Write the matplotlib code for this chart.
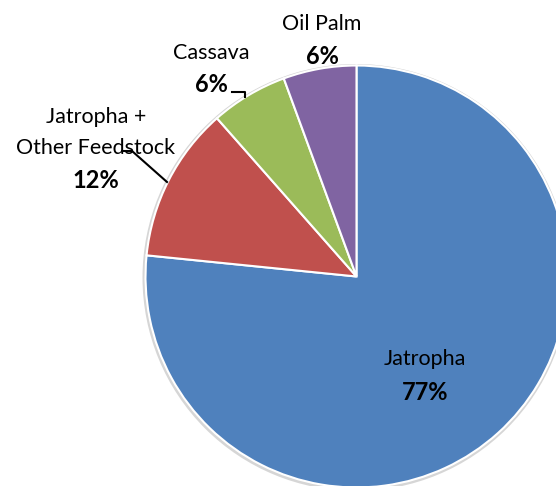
import matplotlib
matplotlib.use("Agg")
import matplotlib.pyplot as plt
from matplotlib.patches import Circle

categories = ["Jatropha", "Jatropha +\nOther Feedstock", "Cassava", "Oil Palm"]
shares = [76.6, 11.9, 5.9, 5.6]
pct_labels = ["77%", "12%", "6%", "6%"]
colors = ["#4F81BD", "#C0504D", "#9BBB59", "#8064A2"]

W, H = 556, 486
fig = plt.figure(figsize=(W / 100, H / 100), dpi=100)
ax = fig.add_axes([0, 0, 1, 1])
ax.set_xlim(0, W)
ax.set_ylim(0, H)
ax.set_aspect("equal")
ax.axis("off")

cx, cy, r = 356.5, H - 276.5, 211

ax.add_patch(Circle((cx - 0.5, cy - 1), r + 2.5, facecolor="#d6d6d6", edgecolor="none", zorder=0))
ax.pie(shares, colors=colors, startangle=90, counterclock=False,
       center=(cx, cy), radius=r, frame=True,
       wedgeprops=dict(edgecolor="white", linewidth=1.5))
ax.set_xlim(0, W)
ax.set_ylim(0, H)
ax.axis("off")

font = ["Lato", "DejaVu Sans"]
fs_name = 15.5
fs_pct = 17
# x center, y of each name line, y of pct (pixel coords from top)
pos = [(425, [359], 392), (96, [117, 148], 180), (211, [53], 85), (322, [24], 57)]
for cat, pct, (x, yns, yp) in zip(categories, pct_labels, pos):
    for line, yn in zip(cat.split("\n"), yns):
        ax.text(x, H - yn, line, ha="center", va="center", fontsize=fs_name,
                family=font, zorder=5)
    ax.text(x, H - yp, pct, ha="center", va="center", fontsize=fs_pct,
            family=font, fontweight="bold", zorder=5)

# leader lines
ax.plot([122, 132, 167], [H - 151, H - 151, H - 182], color="black", lw=1.5, zorder=6)
ax.plot([232, 245, 245], [H - 92, H - 92, H - 97], color="black", lw=1.5, zorder=6)

fig.savefig("out.png", dpi=100)
